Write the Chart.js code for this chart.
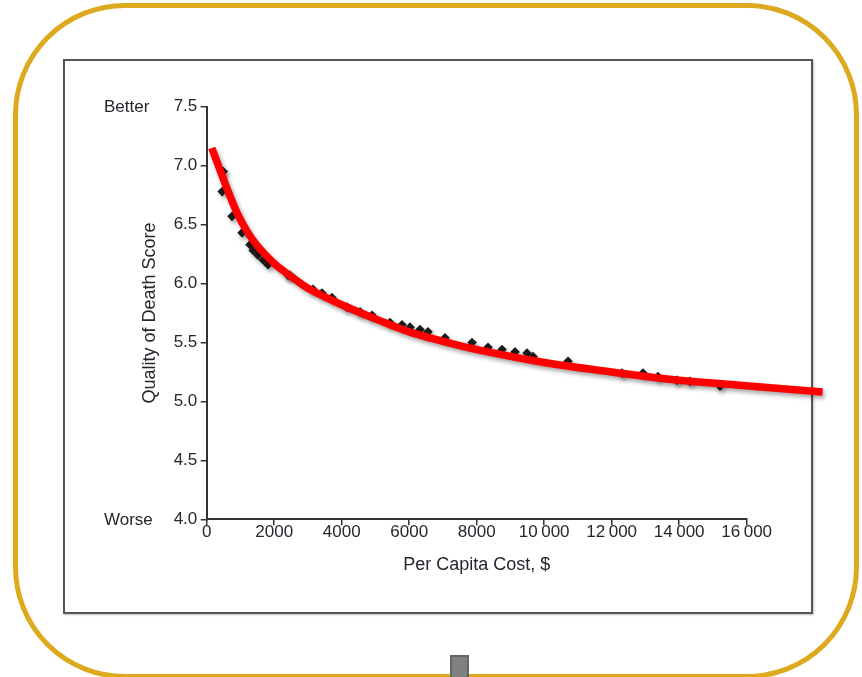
<!DOCTYPE html>
<html>
<head>
<meta charset="utf-8">
<script src="https://cdn.jsdelivr.net/npm/chart.js@4/dist/chart.umd.min.js"></script>
<style>
  html, body { margin: 0; padding: 0; background: #fff; overflow: hidden; }
  #frame {
    position: absolute; left: 13px; top: 3px; width: 846px; height: 676px;
    box-sizing: border-box; border: 5px solid #DDA91F; border-radius: 112px;
  }
  #panel {
    position: absolute; left: 63px; top: 59px; width: 750px; height: 555px;
    box-sizing: border-box; border: 2px solid #555;
    box-shadow: 1px 1px 2px rgba(0,0,0,0.25);
  }
  #tab {
    position: absolute; left: 450px; top: 655px; width: 19px; height: 26px;
    box-sizing: border-box; background: #808080; border: 2px solid #656565;
  }
  #chart { position: absolute; left: 0; top: 0; }
</style>
</head>
<body>
<div id="frame"></div>
<div id="panel"></div>
<div id="tab"></div>
<canvas id="chart" width="862" height="677"></canvas>
<script>
// valeurs
const costX = [459, 489, 750, 1047, 1283, 1378, 1520, 1674, 1816, 2410, 2470, 3150, 3416, 3712,
  4156, 4543, 4898, 5431, 5787, 6024, 6320, 6557, 7060, 7861, 8335, 8750, 9135, 9490, 9668,
  10706, 12305, 12927, 13371, 13934, 14320, 15209];
const scoreY = [6.78, 6.95, 6.57, 6.43, 6.33, 6.28, 6.24, 6.20, 6.16, 6.07, 6.07, 5.95, 5.92, 5.88,
  5.80, 5.76, 5.73, 5.67, 5.65, 5.63, 5.61, 5.59, 5.54, 5.50, 5.46, 5.44, 5.42, 5.41, 5.38,
  5.34, 5.24, 5.24, 5.21, 5.18, 5.17, 5.13];

// courbe rouge (ajustement), elle dépasse la fin de l'axe x
const fitX = [150, 400, 650, 900, 1200, 1500, 2000, 2500, 3000, 4000, 5000, 6000, 7000, 8000,
  10000, 12000, 14000, 15700, 18250];
const fitY = [7.15, 6.96, 6.77, 6.60, 6.44, 6.32, 6.17, 6.06, 5.96, 5.82, 5.70, 5.59, 5.51, 5.44,
  5.33, 5.25, 5.18, 5.14, 5.08];

const xTickValues = [0, 2000, 4000, 6000, 8000, 10000, 12000, 14000, 16000];
const xTickLabels = ["0", "2000", "4000", "6000", "8000", "10\u2009000", "12\u2009000", "14\u2009000", "16\u2009000"];
const yTickValues = [4.0, 4.5, 5.0, 5.5, 6.0, 6.5, 7.0, 7.5];
const yTickLabels = ["4.0", "4.5", "5.0", "5.5", "6.0", "6.5", "7.0", "7.5"];

const textColor = "#26262f";
Chart.defaults.font.family = "'Liberation Sans', Arial, sans-serif";
Chart.defaults.color = textColor;

// ombre portée sous la courbe et les losanges
const shadowPlugin = {
  id: "shadow",
  beforeDatasetDraw(chart) {
    const ctx = chart.ctx;
    ctx.save();
    ctx.shadowColor = "rgba(0,0,0,0.35)";
    ctx.shadowBlur = 4;
    ctx.shadowOffsetX = 2;
    ctx.shadowOffsetY = 3;
  },
  afterDatasetDraw(chart) {
    chart.ctx.restore();
  },
};

// "Better" / "Worse" à gauche des graduations
const sideLabels = {
  id: "sideLabels",
  afterDraw(chart) {
    const ctx = chart.ctx;
    const y = chart.scales.y;
    ctx.save();
    ctx.font = "17px 'Liberation Sans', Arial, sans-serif";
    ctx.fillStyle = textColor;
    ctx.textAlign = "left";
    ctx.textBaseline = "middle";
    ctx.fillText("Better", 104, y.getPixelForValue(7.5) + 1);
    ctx.fillText("Worse", 104, y.getPixelForValue(4.0) + 1);
    ctx.restore();
  },
};

new Chart(document.getElementById("chart"), {
  type: "scatter",
  data: {
    datasets: [
      {
        label: "fit",
        data: fitX.map((x, i) => ({ x: x, y: fitY[i] })),
        showLine: true,
        borderColor: "#FF0000",
        borderWidth: 7.5,
        pointRadius: 0,
        tension: 0.4,
        capBezierPoints: false,
        clip: false,
      },
      {
        label: "states",
        data: costX.map((x, i) => ({ x: x, y: scoreY[i] })),
        pointStyle: "rectRot",
        pointRadius: 4.8,
        backgroundColor: "#1a1a1a",
        borderWidth: 0,
      },
    ],
  },
  options: {
    responsive: false,
    animation: false,
    devicePixelRatio: 1,
    layout: { padding: { left: 139.7, right: 115.3, top: 106.7, bottom: 97.7 } },
    plugins: { legend: { display: false }, tooltip: { enabled: false } },
    scales: {
      x: {
        type: "linear",
        min: 0,
        max: 16000,
        afterBuildTicks: (s) => { s.ticks = xTickValues.map((v) => ({ value: v })); },
        afterFit: (s) => { s.height = 60; },
        ticks: {
          padding: -3.5,
          font: { size: 17 },
          color: textColor,
          callback: (v) => xTickLabels[xTickValues.indexOf(v)],
        },
        grid: { drawOnChartArea: false, drawTicks: true, tickLength: 6, color: "#333", lineWidth: 1.5 },
        border: { display: true, color: "#333", width: 2 },
        title: { display: true, text: "Per Capita Cost, $", font: { size: 18 }, color: textColor, padding: { top: 0, bottom: 3.5 } },
      },
      y: {
        min: 4,
        max: 7.5,
        afterBuildTicks: (s) => { s.ticks = yTickValues.map((v) => ({ value: v })); },
        afterFit: (s) => { s.width = 67; },
        ticks: {
          padding: 3.4,
          font: { size: 17 },
          color: textColor,
          callback: (v) => yTickLabels[yTickValues.indexOf(v)],
        },
        grid: { drawOnChartArea: false, drawTicks: true, tickLength: 6, color: "#333", lineWidth: 1.5 },
        border: { display: true, color: "#333", width: 2 },
        title: { display: true, text: "Quality of Death Score", font: { size: 18 }, color: textColor, padding: { top: 0, bottom: 0 } },
      },
    },
  },
  plugins: [shadowPlugin, sideLabels],
});
</script>
</body>
</html>
